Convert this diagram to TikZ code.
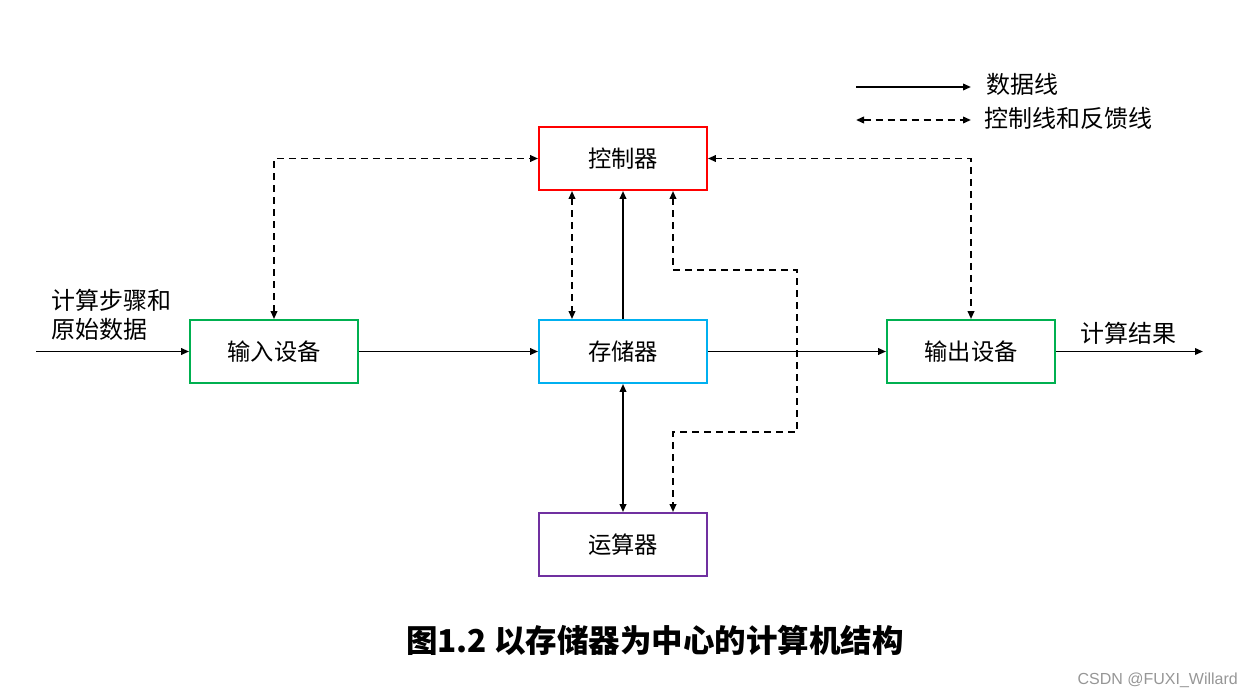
\documentclass[tikz,border=0pt]{standalone}
\usepackage{fontspec}
\setmainfont{Noto Sans CJK SC}
\newfontfamily\wmfont{Liberation Sans}
\usetikzlibrary{arrows.meta}
\definecolor{cred}{RGB}{255,0,0}
\definecolor{ccyan}{RGB}{0,176,240}
\definecolor{cgreen}{RGB}{0,176,80}
\definecolor{cpurple}{RGB}{112,48,160}
\definecolor{cgray}{RGB}{150,150,150}
\begin{document}
\begin{tikzpicture}[x=1pt,y=-1pt,
  box/.style={draw, line width=1.8pt, minimum width=168pt, minimum height=63pt, inner sep=0pt, font=\fontsize{23.3}{28}\selectfont},
  lbl/.style={inner sep=0pt, font=\fontsize{24}{29}\selectfont},
  tip/.tip={Triangle[length=8pt,width=6.5pt]},
  data/.style={line width=1.9pt, -tip},
  ctl/.style={line width=1.9pt, dash pattern=on 7pt off 5pt, tip-tip}]
\useasboundingbox (0,0) rectangle (1253,698);
\node[box, draw=cred] (ctrl) at (623,158.5) {控制器};
\node[box, draw=cgreen] (in) at (274,351.5) {输入设备};
\node[box, draw=ccyan] (mem) at (623,351.5) {存储器};
\node[box, draw=cgreen] (out) at (971,351.5) {输出设备};
\node[box, draw=cpurple] (alu) at (623,544.5) {运算器};
\coordinate (src) at (36,351.5);
\coordinate (dst) at (1203,351.5);
\draw[data] (src) -- (in);
\draw[data] (in) -- (mem);
\draw[data] (mem) -- (out);
\draw[data] (out) -- (dst);
\draw[data] (mem) -- (ctrl);
\draw[data, tip-tip] (mem) -- (alu);
\draw[ctl] ([xshift=-51pt]ctrl.south) -- ([xshift=-51pt]mem.north);
\draw[ctl] (in.north) |- (ctrl.west);
\draw[ctl] (ctrl.east) -| (out.north);
\coordinate (k1) at (673,270);
\coordinate (k2) at (797,270);
\coordinate (k3) at (797,432);
\coordinate (k4) at (673,432);
\draw[ctl] ([xshift=50pt]ctrl.south) -- (k1) -- (k2) -- (k3) -- (k4) -- ([xshift=50pt]alu.north);
\node[lbl, anchor=west, align=left] (inlbl) at (51,315) {计算步骤和\\原始数据};
\node[lbl] (outlbl) at (1128,333) {计算结果};
% legend
\coordinate (l1a) at (856,87); \coordinate (l1b) at (971,87);
\coordinate (l2a) at (856,120); \coordinate (l2b) at (971,120);
\draw[data] (l1a) -- (l1b);
\draw[ctl] (l2a) -- (l2b);
\node[lbl, anchor=west] (leg1) at (986,84) {数据线};
\node[lbl, anchor=west] (leg2) at (984,118) {控制线和反馈线};
% caption
\node[inner sep=0pt, font=\fontsize{31.5}{36}\selectfont\bfseries] (cap) at (655,640) {图1.2 以存储器为中心的计算机结构};
\node[inner sep=0pt, text=cgray, font=\wmfont\fontsize{16}{18}\selectfont, anchor=east] (wm) at (1238,680) {CSDN @FUXI\_Willard};
\end{tikzpicture}
\end{document}
